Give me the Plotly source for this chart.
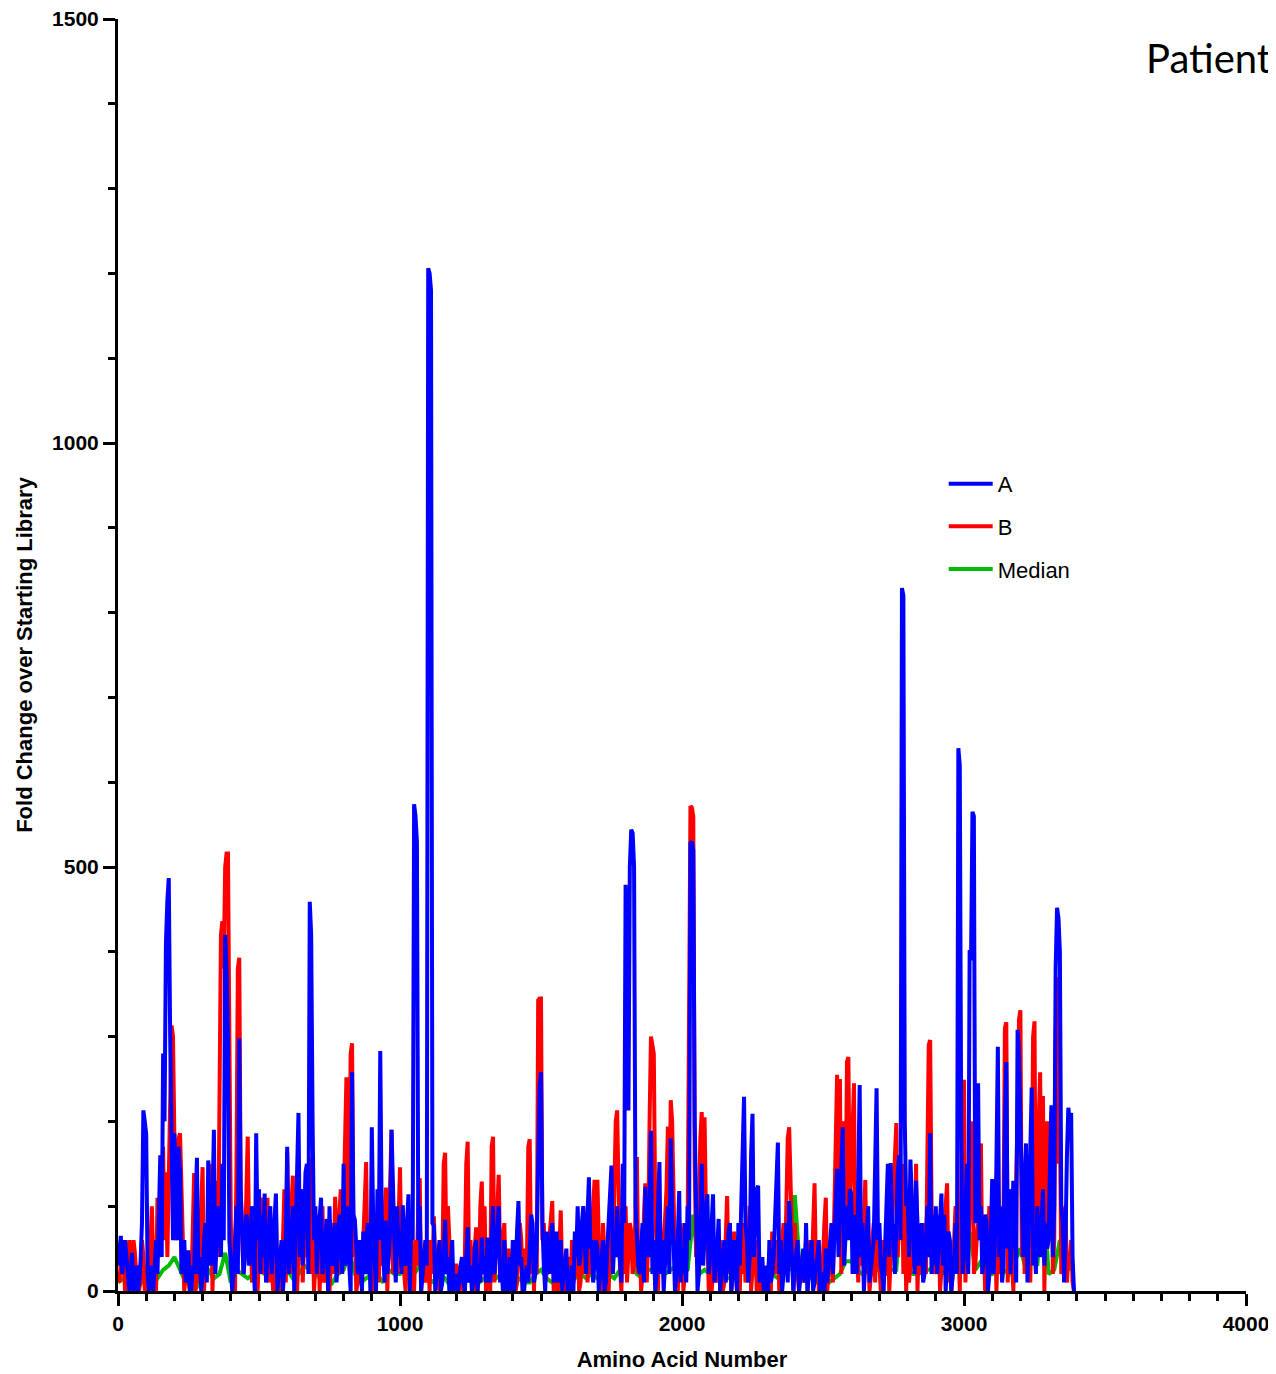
import numpy as np
import plotly.graph_objects as go

# Amino acid positions: main samples every 10 residues, plus in-between samples
positions = list(range(0, 3400, 10))
positions_mid = list(range(5, 3400, 10))
median_positions = list(range(0, 3400, 20))

series_a = [
    30, 65, 50, 40, 0, 45, 10, 0, 35, 213,
    185, 0, 10, 30, 20, 160, 280, 410, 487, 130,
    186, 60, 140, 30, 10, 48, 0, 20, 157, 40,
    20, 80, 154, 30, 190, 50, 90, 150, 420, 296,
    30, 20, 100, 298, 80, 40, 80, 60, 40, 186,
    120, 90, 115, 40, 100, 60, 115, 20, 60, 30,
    170, 40, 100, 60, 210, 120, 80, 150, 459, 200,
    100, 60, 110, 30, 85, 100, 30, 80, 40, 70,
    150, 60, 30, 258, 84, 20, 40, 70, 20, 60,
    193, 40, 120, 283, 50, 83, 40, 190, 60, 100,
    70, 101, 30, 114, 90, 574, 530, 100, 20, 60,
    1206, 1180, 77, 20, 60, 10, 84, 40, 30, 0,
    20, 10, 40, 0, 75, 30, 10, 60, 30, 63,
    40, 63, 10, 100, 40, 100, 30, 60, 0, 40,
    60, 20, 106, 40, 0, 30, 50, 80, 20, 150,
    258, 30, 70, 20, 80, 40, 10, 60, 20, 50,
    0, 30, 70, 100, 40, 100, 20, 134, 60, 30,
    50, 20, 60, 10, 80, 148, 60, 100, 40, 150,
    479, 213, 544, 500, 63, 20, 80, 123, 40, 189,
    60, 20, 152, 60, 30, 100, 180, 60, 20, 118,
    50, 80, 100, 528, 520, 60, 20, 150, 70, 114,
    40, 114, 30, 85, 20, 60, 30, 80, 40, 20,
    80, 100, 229, 60, 40, 209, 80, 124, 20, 0,
    30, 60, 20, 80, 175, 60, 20, 80, 106, 40,
    30, 60, 20, 50, 80, 20, 60, 10, 40, 0,
    20, 50, 30, 80, 60, 144, 100, 193, 80, 60,
    115, 60, 20, 243, 80, 40, 100, 30, 60, 239,
    80, 20, 60, 150, 151, 60, 100, 160, 829, 200,
    120, 155, 60, 130, 30, 80, 20, 100, 186, 90,
    100, 60, 115, 90, 30, 60, 20, 80, 640, 200,
    40, 150, 402, 565, 80, 245, 100, 40, 80, 20,
    132, 60, 288, 100, 30, 270, 120, 80, 100, 308,
    200, 40, 174, 80, 240, 60, 100, 40, 120, 80,
    60, 219, 100, 452, 400, 80, 60, 216, 210, 0,
]

series_a_mid = [
    50, 20, 60, 10, 20, 0, 30, 10, 80, 200,
    20, 30, 0, 60, 80, 40, 200, 460, 300, 60,
    100, 170, 20, 60, 30, 0, 30, 100, 20, 0,
    60, 10, 80, 100, 20, 100, 40, 60, 380, 60,
    0, 60, 20, 120, 20, 90, 30, 100, 0, 60,
    20, 40, 10, 70, 20, 90, 0, 40, 0, 60,
    20, 80, 0, 110, 40, 30, 140, 20, 420, 60,
    20, 90, 20, 60, 0, 40, 70, 10, 90, 20,
    30, 100, 0, 90, 40, 60, 0, 30, 80, 0,
    80, 0, 60, 90, 10, 20, 70, 100, 10, 40,
    20, 40, 80, 0, 60, 560, 60, 0, 40, 30,
    1200, 80, 0, 40, 0, 40, 20, 0, 60, 10,
    0, 30, 10, 40, 10, 0, 50, 0, 10, 20,
    10, 20, 60, 20, 70, 10, 0, 30, 20, 0,
    0, 70, 30, 0, 20, 10, 90, 10, 60, 240,
    80, 0, 40, 60, 10, 70, 30, 0, 40, 0,
    20, 0, 40, 30, 80, 60, 90, 50, 10, 60,
    0, 40, 0, 50, 120, 20, 40, 60, 10, 80,
    300, 500, 540, 100, 30, 60, 10, 70, 100, 20,
    0, 100, 20, 0, 70, 20, 90, 0, 60, 10,
    20, 10, 60, 530, 200, 0, 90, 30, 100, 20,
    80, 10, 50, 0, 40, 10, 70, 0, 60, 0,
    30, 180, 80, 10, 160, 40, 120, 10, 40, 20,
    0, 10, 40, 120, 20, 0, 40, 10, 60, 0,
    50, 0, 30, 10, 0, 40, 0, 30, 60, 20,
    0, 10, 60, 20, 100, 40, 150, 30, 100, 120,
    20, 90, 160, 40, 0, 70, 10, 40, 150, 60,
    30, 0, 100, 40, 80, 20, 140, 60, 820, 100,
    40, 100, 20, 90, 60, 10, 60, 40, 20, 30,
    20, 80, 30, 0, 70, 0, 30, 20, 620, 20,
    100, 20, 390, 560, 100, 60, 20, 90, 0, 60,
    20, 150, 40, 10, 200, 50, 20, 130, 10, 280,
    100, 130, 10, 160, 30, 20, 60, 80, 30, 50,
    150, 40, 380, 440, 100, 10, 160, 200, 40, 0,
]

series_b = [
    20, 35, 30, 55, 60, 25, 45, 30, 15, 40,
    30, 10, 100, 60, 110, 90, 170, 140, 120, 313,
    150, 90, 186, 60, 20, 10, 0, 139, 30, 60,
    146, 40, 90, 110, 60, 130, 300, 436, 500, 516,
    80, 20, 140, 393, 60, 40, 182, 100, 30, 60,
    50, 110, 30, 110, 70, 0, 100, 30, 0, 120,
    164, 20, 136, 80, 60, 120, 60, 40, 158, 90,
    30, 90, 50, 10, 60, 0, 80, 111, 20, 120,
    100, 252, 120, 292, 70, 10, 30, 60, 152, 40,
    60, 20, 80, 100, 30, 122, 80, 190, 40, 20,
    146, 60, 0, 90, 60, 0, 30, 133, 40, 10,
    40, 60, 88, 30, 0, 20, 163, 100, 20, 0,
    30, 0, 20, 40, 176, 60, 0, 75, 20, 129,
    100, 40, 0, 182, 60, 137, 20, 80, 10, 30,
    30, 0, 40, 60, 10, 30, 179, 60, 60, 343,
    345, 80, 20, 60, 106, 30, 0, 95, 40, 10,
    40, 60, 20, 75, 10, 60, 90, 60, 20, 131,
    131, 40, 80, 20, 0, 140, 150, 213, 30, 60,
    100, 40, 70, 30, 158, 60, 20, 127, 60, 300,
    280, 60, 90, 40, 85, 194, 225, 120, 60, 40,
    60, 20, 80, 572, 560, 40, 100, 211, 205, 60,
    80, 30, 60, 20, 40, 10, 112, 60, 20, 50,
    40, 60, 80, 20, 100, 30, 60, 20, 0, 20,
    10, 40, 70, 20, 60, 30, 80, 140, 193, 60,
    80, 20, 40, 10, 60, 30, 20, 127, 60, 10,
    40, 110, 20, 60, 100, 255, 250, 140, 80, 276,
    143, 245, 60, 100, 30, 131, 60, 20, 80, 100,
    30, 60, 20, 80, 40, 120, 198, 100, 150, 100,
    60, 30, 100, 150, 60, 20, 80, 120, 296, 60,
    40, 90, 30, 70, 127, 40, 20, 100, 60, 120,
    249, 60, 100, 200, 30, 80, 174, 60, 20, 100,
    40, 100, 60, 20, 80, 317, 120, 40, 60, 200,
    331, 120, 60, 149, 100, 318, 80, 258, 230, 100,
    80, 210, 60, 370, 209, 60, 100, 40, 60, 0,
]

series_b_mid = [
    10, 50, 0, 40, 10, 60, 20, 0, 60, 0,
    0, 60, 30, 0, 40, 150, 60, 40, 220, 300,
    60, 180, 100, 0, 40, 0, 100, 0, 10, 120,
    0, 30, 150, 0, 100, 40, 420, 380, 516, 200,
    20, 0, 380, 120, 20, 100, 60, 10, 80, 0,
    90, 20, 60, 10, 40, 60, 0, 50, 80, 10,
    60, 100, 20, 0, 90, 10, 80, 120, 20, 0,
    60, 0, 100, 40, 0, 30, 20, 60, 90, 20,
    200, 60, 280, 40, 0, 60, 10, 120, 20, 80,
    0, 60, 10, 40, 90, 0, 150, 20, 60, 100,
    40, 20, 60, 20, 10, 60, 100, 0, 20, 60,
    0, 20, 40, 10, 40, 150, 30, 60, 0, 30,
    10, 30, 0, 150, 20, 20, 50, 0, 100, 40,
    0, 30, 170, 10, 100, 40, 60, 0, 50, 0,
    20, 10, 80, 0, 50, 170, 20, 0, 20, 345,
    60, 10, 40, 90, 0, 40, 60, 20, 0, 30,
    0, 10, 60, 0, 40, 20, 10, 70, 100, 40,
    60, 0, 40, 0, 100, 40, 200, 80, 0, 20,
    10, 80, 20, 120, 20, 0, 90, 10, 200, 290,
    100, 0, 30, 60, 120, 60, 200, 30, 0, 80,
    0, 40, 300, 570, 150, 60, 180, 60, 90, 0,
    0, 40, 10, 60, 0, 80, 20, 0, 70, 10,
    0, 20, 10, 60, 0, 50, 0, 40, 10, 0,
    20, 0, 30, 40, 0, 60, 20, 180, 120, 0,
    30, 0, 20, 40, 0, 60, 80, 20, 0, 30,
    80, 0, 40, 10, 200, 100, 20, 200, 270, 100,
    200, 20, 10, 60, 80, 20, 0, 60, 10, 40,
    0, 20, 60, 0, 90, 180, 40, 60, 20, 0,
    10, 80, 20, 0, 30, 60, 20, 290, 100, 20,
    60, 0, 50, 100, 10, 0, 60, 20, 0, 240,
    10, 30, 160, 20, 60, 150, 20, 0, 60, 20,
    80, 0, 30, 60, 310, 10, 60, 0, 150, 320,
    40, 20, 130, 10, 300, 40, 200, 60, 0, 200,
    180, 20, 300, 150, 20, 90, 10, 30, 10, 0,
]

series_median = [
    10, 15, 12, 5, 8, 20, 5, 15, 25, 30,
    40, 25, 10, 8, 5, 20, 25, 15, 20, 45,
    10, 25, 20, 15, 20, 25, 20, 15, 10, 20,
    25, 15, 20, 30, 25, 20, 15, 20, 10, 20,
    25, 45, 20, 10, 15, 20, 20, 10, 25, 20,
    20, 25, 15, 25, 35, 15, 10, 20, 15, 5,
    5, 10, 15, 20, 10, 15, 20, 15, 20, 10,
    10, 15, 10, 10, 20, 25, 15, 10, 15, 10,
    10, 15, 20, 15, 20, 15, 25, 20, 15, 25,
    45, 50, 20, 15, 25, 25, 40, 20, 25, 30,
    20, 25, 90, 20, 25, 20, 15, 20, 15, 15,
    20, 25, 35, 20, 15, 10, 20, 15, 20, 25,
    113, 15, 20, 15, 10, 20, 10, 15, 20, 35,
    35, 25, 20, 25, 20, 30, 20, 25, 25, 120,
    25, 20, 20, 25, 25, 35, 20, 25, 20, 90,
    25, 70, 25, 35, 25, 20, 25, 25, 20, 35,
    50, 25, 35, 30, 125, 20, 25, 60, 35, 25,
]

assert len(series_a) == len(positions) == len(series_a_mid) == len(series_b) == len(series_b_mid)
assert len(series_median) == len(median_positions)

def merge(main_x, main_y, mid_x, mid_y):
    x = np.empty(len(main_x) + len(mid_x))
    y = np.empty(len(main_y) + len(mid_y))
    x[0::2], x[1::2] = main_x, mid_x
    y[0::2], y[1::2] = main_y, mid_y
    return x, y

xa, ya = merge(positions, series_a, positions_mid, series_a_mid)
xb, yb = merge(positions, series_b, positions_mid, series_b_mid)

font_family = "Arial, Liberation Sans, Helvetica, sans-serif"

fig = go.Figure()
fig.add_trace(go.Scatter(x=median_positions, y=series_median, mode="lines", name="Median",
                         line=dict(color="#00BB00", width=4), legendrank=3, legendgroup="m"))
fig.add_trace(go.Scatter(x=xb, y=yb, mode="lines", name="B",
                         line=dict(color="#FF0000", width=4), legendrank=2, legendgroup="b"))
fig.add_trace(go.Scatter(x=xa, y=ya, mode="lines", name="A",
                         line=dict(color="#0000FF", width=4), legendrank=1, legendgroup="a"))

axis_common = dict(
    showline=True, linewidth=3, linecolor="black",
    ticks="outside", ticklen=12, tickwidth=3, tickcolor="black",
    showgrid=False, zeroline=False, automargin=False, ticklabeloverflow="allow",
    tickfont=dict(family=font_family, size=21, color="black", weight="bold"),
)

# page body has an 8px default margin, so the figure is sized to fit the window
fig.update_layout(
    width=1268, height=1366,
    margin=dict(l=110, r=30, t=11, b=83, autoexpand=False),
    plot_bgcolor="white", paper_bgcolor="white",
    xaxis=dict(range=[0, 4000], dtick=1000, tick0=0,
               minor=dict(dtick=100, ticks="outside", ticklen=7, tickwidth=3, tickcolor="black"),
               title=dict(text="Amino Acid Number", standoff=18,
                          font=dict(family=font_family, size=22, color="black", weight="bold")),
               **axis_common),
    yaxis=dict(range=[0, 1500], dtick=500, tick0=0,
               minor=dict(dtick=100, ticks="outside", ticklen=7, tickwidth=3, tickcolor="black"),
               title=dict(text="Fold Change over Starting Library", standoff=14,
                          font=dict(family=font_family, size=22, color="black", weight="bold")),
               **axis_common),
    legend=dict(x=0.732, y=0.651, xanchor="left", yanchor="top",
                traceorder="grouped", tracegroupgap=11, itemwidth=44,
                bgcolor="rgba(0,0,0,0)",
                font=dict(family=font_family, size=22, color="black")),
    annotations=[dict(text="Patient", x=0.9096, y=0.969, xref="paper", yref="paper",
                      xanchor="left", yanchor="middle", showarrow=False,
                      font=dict(family="Lato, Open Sans, sans-serif", size=40, color="black"))],
)

fig.write_html("out.html")
